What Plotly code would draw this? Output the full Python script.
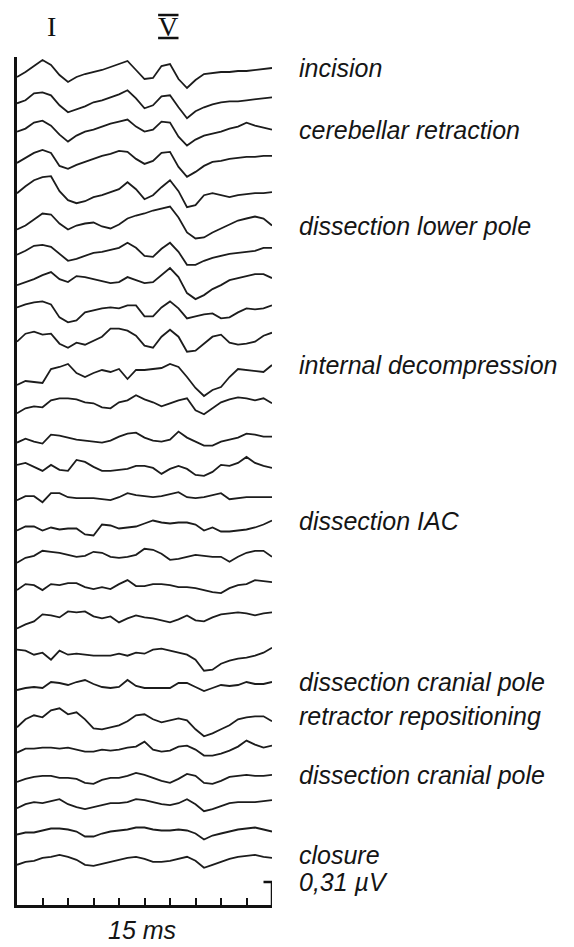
import plotly.graph_objects as go

# ---------------- data ----------------
TIME_MS = [0.0, 0.5, 1.0, 1.5, 2.0, 2.5, 3.0, 3.5, 4.0, 4.5, 5.0, 5.5, 6.0, 6.5, 7.0, 7.5,
           8.0, 8.5, 9.0, 9.5, 10.0, 10.5, 11.0, 11.5, 12.0, 12.5, 13.0, 13.5, 14.0, 14.5, 15.0]

SWEEP_MS = 15.0
SCALE_BAR_UV = 0.31          # calibration bar
SCALE_BAR_UNITS = 23.0       # height of the calibration bar in amplitude units

# amplitudes in units of (0.31 µV / 23), one list per averaged recording, top to bottom
abr_01 = [0, 5, 11, 17, 12, 2, -5, 0, 3, 5, 7, 10, 13, 16, 7, -2, -1, 11, 13, -2, -11, -3, 3, 4, 5, 5, 6, 6, 7, 8, 9]
abr_02 = [0, 3, 10, 11, 8, -2, -9, -6, -3, 1, 3, 6, 9, 13, 5, -5, -2, 7, 8, -4, -15, -8, -4, -1, 1, 2, 2, 3, 4, 5, 6]
abr_03 = [0, 3, 9, 11, 6, -3, -10, -4, 0, 2, 5, 8, 10, 12, 5, 0, 2, 10, 9, -5, -14, -8, -4, -2, 0, 3, 5, 9, 6, 4, 2]
abr_04 = [0, 5, 10, 13, 10, -3, -6, -2, 1, 4, 7, 9, 12, 11, 4, -1, 2, 10, 11, -4, -14, -9, -3, 1, 2, 4, 5, 6, 6, 7, 7]
abr_05 = [0, 7, 13, 16, 17, 2, -7, -10, -8, -4, -2, 1, 4, 11, 4, -6, -2, 6, 13, 2, -14, -12, -2, 0, -2, -4, -2, -1, 0, 0, 1]
abr_06 = [0, 4, 10, 16, 15, 6, 0, 4, 6, 7, 3, 1, 5, 11, 14, 16, 19, 21, 23, 12, -3, -9, -8, -3, 1, 5, 9, 11, 13, 11, 4]
abr_07 = [0, 4, 9, 10, 8, 1, -6, -4, -1, 2, 3, 5, 7, 12, 7, -1, -2, 6, 12, 3, -10, -10, -6, -3, -1, 1, 2, 3, 4, 7, 7]
abr_08 = [0, 3, 6, 10, 13, 6, 3, 9, 8, 6, 4, 2, 3, 8, 5, 2, 3, 10, 17, 8, -8, -14, -10, -4, 0, 5, 7, 9, 11, 11, 7]
abr_09 = [0, 3, 5, 6, 3, -10, -15, -13, -5, -3, -1, 0, -1, 2, 2, -9, -9, 0, 6, -1, -11, -9, -7, -6, -11, -10, -5, -1, -2, -1, 2]
abr_10 = [0, 8, 10, 7, 8, -2, -6, -1, -3, 1, 5, 13, 13, 11, 6, -4, -6, 5, 12, 5, -10, -9, -2, 5, 7, -1, -3, -2, 0, 6, 9]
abr_11 = [0, 4, 3, 2, 16, 18, 21, 12, 8, 12, 15, 13, 16, 6, 15, 15, 16, 17, 21, 18, 8, -3, -11, -5, -2, 8, 16, 15, 14, 13, 20]
abr_12 = [0, 5, 7, 6, 13, 15, 15, 14, 11, 10, 6, 5, 11, 13, 18, 14, 11, 7, 10, 13, 15, 3, -1, 5, 11, 14, 16, 15, 13, 15, 10]
abr_13 = [0, 4, 1, -1, 8, 7, 5, 3, 2, 1, 0, 2, 6, 9, 10, 5, 2, 1, 3, 11, 5, 1, -3, -3, 1, 3, 5, 9, 8, 6, 6]
abr_14 = [0, 2, -2, -6, 0, -5, -6, 5, 3, -2, -6, -6, -5, -4, -1, -1, -3, -9, -4, -1, -4, -10, -11, -7, 0, -1, 2, 8, 2, -1, -3]
abr_15 = [0, 4, 4, -2, 7, 7, 3, 2, 2, 2, 1, 0, 3, 7, 5, 4, 3, 4, 6, 8, 3, 2, 3, 5, 7, 1, 2, 3, 3, 3, 3]
abr_16 = [0, 4, 4, 0, 3, 1, 2, 2, -4, -5, 6, 5, 2, 3, 4, 7, 10, 8, 7, 8, 8, 6, 0, 3, -1, -1, 0, 1, 3, 6, 10]
abr_17 = [0, 5, 7, 12, 11, 10, 8, 6, 7, 11, 10, 6, 5, 6, 8, 14, 13, 9, 3, 4, 6, 8, 7, 6, 6, 1, 6, 10, 12, 12, 6]
abr_18 = [0, 6, 5, 0, 6, 5, 7, 7, 3, 1, 3, 1, 6, 10, 4, 4, 6, 6, 5, 3, 3, 2, 0, -2, -3, 2, 5, 6, 10, 9, 8]
abr_19 = [0, 4, 7, 14, 13, 11, 17, 16, 17, 12, 10, 12, 6, 10, 13, 11, 10, 8, 6, 9, 13, 8, 7, 11, 14, 15, 16, 15, 13, 15, 16]
abr_20 = [0, -1, -5, -3, -10, -1, -5, -4, -5, -6, -6, -6, -4, -6, -3, -4, 0, 1, -1, -3, -5, -10, -21, -20, -14, -11, -9, -8, -6, -3, 2]
abr_21 = [0, 2, 3, 2, 8, 7, 5, 8, 10, 6, 3, 2, 3, 10, 4, 2, 2, 2, 2, 7, 7, 3, -1, 2, 5, 4, 5, 8, 6, 6, 8]
abr_22 = [0, 8, 12, 10, 17, 19, 13, 15, 8, -1, -2, 0, 2, 6, 12, 13, 8, 5, 7, 9, 7, -2, -9, -6, -2, 2, 8, 10, 11, 11, 6]
abr_23 = [0, 4, 4, 5, 5, 4, 5, 3, 1, 1, 3, 2, 3, 5, 6, 11, 3, 1, 2, 6, 7, 3, -3, -3, -1, 2, 6, 12, 8, 5, 7]
abr_24 = [0, 3, 5, 6, 6, 4, 4, 3, -1, -2, 2, 4, 4, 6, 9, 7, 4, 1, -1, 3, 8, 6, -1, -2, 1, 5, 6, 7, 6, 6, 7]
abr_25 = [0, 4, 6, 5, 7, 9, 4, 1, -1, 1, 3, 5, 5, 6, 9, 8, 6, 4, 3, 5, 9, 4, -3, -1, 2, 5, 6, 6, 6, 7, 8]
abr_26 = [0, 2, 2, 4, 6, 6, 5, 3, -2, -2, 1, 3, 4, 5, 7, 7, 5, 4, 4, 5, 4, 1, -5, -1, 1, 3, 5, 6, 7, 5, 3]
abr_27 = [0, 3, 4, 7, 8, 10, 8, 5, 0, -1, 1, 3, 5, 7, 8, 6, 3, 3, 4, 6, 8, 4, -3, 0, 3, 6, 8, 9, 10, 8, 7]

# DC shift of each recording's start relative to its nominal row (same units)
baseline_shift = [0, 4, 6, 5, 5, -1, 4, 4, 12, 8, -5, -3, -2, 6, 1, 1, -1, 2, -6, 3, -7, -14, -9, -8, -4, 0, 0]

# surgical events, keyed by recording index
events = {0: "incision", 2: "cerebellar retraction", 5: "dissection lower pole",
          10: "internal decompression", 15: "dissection IAC", 20: "dissection cranial pole",
          21: "retractor repositioning", 23: "dissection cranial pole", 26: "closure"}

# wave labels (latency in ms)
wave_labels = [("I", 2.05), ("V", 8.9)]

recordings = [abr_01, abr_02, abr_03, abr_04, abr_05, abr_06, abr_07, abr_08, abr_09,
              abr_10, abr_11, abr_12, abr_13, abr_14, abr_15, abr_16, abr_17, abr_18,
              abr_19, abr_20, abr_21, abr_22, abr_23, abr_24, abr_25, abr_26, abr_27]

# ---------------- layout constants ----------------
UV_PER_UNIT = SCALE_BAR_UV / SCALE_BAR_UNITS
ROW_SPACING = 30.3          # units between stacked recordings
TOP_ROW = 828.0             # units above the time axis for the first recording
Y_TOP = 848.0               # units of the full plotting height
LINE_COLOR = "#1c1c1c"
INK = "#111111"
LABEL_X = 1.098
LABEL_FONT = dict(family="Liberation Sans, Arial, sans-serif", size=25, color="#151515", style="italic")
LABEL_NUDGE = {21: 5, 26: 3}   # small vertical nudges (px) to keep labels apart

fig = go.Figure()
annotations = []
for i, rec in enumerate(recordings):
    assert len(rec) == len(TIME_MS)
    base = TOP_ROW - i * ROW_SPACING + baseline_shift[i]
    y = [(base + v) * UV_PER_UNIT for v in rec]
    fig.add_trace(go.Scatter(x=TIME_MS, y=y, mode="lines",
                             line=dict(color=LINE_COLOR, width=1.8),
                             hoverinfo="skip", showlegend=False))
    if i in events:
        annotations.append(dict(text=events[i], xref="paper", yref="y", x=LABEL_X, y=y[-1],
                                xanchor="left", yanchor="middle", showarrow=False,
                                yshift=LABEL_NUDGE.get(i, 0), font=LABEL_FONT))

annotations.append(dict(text="0,31 µV", xref="paper", yref="y", x=LABEL_X, y=SCALE_BAR_UV,
                        xanchor="left", yanchor="middle", showarrow=False, font=LABEL_FONT))
annotations.append(dict(text=f"{SWEEP_MS:g} ms", xref="paper", yref="paper", x=0.49, y=-0.03,
                        xanchor="center", yanchor="middle", showarrow=False, font=LABEL_FONT))
shapes = []
for name, lat in wave_labels:
    annotations.append(dict(text=name, xref="x", yref="paper", x=lat, y=1.0354,
                            xanchor="center", yanchor="middle", showarrow=False,
                            font=dict(family="Liberation Serif, Times New Roman, serif", size=28, color=INK)))
    if name == "V":
        for yb in (1.0495, 1.0224):
            shapes.append(dict(type="line", xref="x", yref="paper", x0=lat - 0.6, x1=lat + 0.6,
                               y0=yb, y1=yb, line=dict(color=INK, width=2.5)))

shapes.append(dict(type="path", xref="x", yref="y",
                   path=f"M {SWEEP_MS - 0.5},{SCALE_BAR_UV} L {SWEEP_MS},{SCALE_BAR_UV} L {SWEEP_MS},0",
                   line=dict(color=INK, width=2.5)))

# the page body adds an 8px offset, so the figure is sized to fit the 574x947 window
fig.update_layout(
    width=566, height=939,
    margin=dict(l=9, r=302, t=49, b=42),
    paper_bgcolor="white", plot_bgcolor="white",
    annotations=annotations, shapes=shapes,
    xaxis=dict(range=[0, SWEEP_MS], showline=True, linewidth=3, linecolor=INK,
               ticks="inside", ticklen=7, tickwidth=2, tickcolor=INK, tick0=0, dtick=1.5,
               showticklabels=False, showgrid=False, zeroline=False),
    yaxis=dict(range=[0, Y_TOP * UV_PER_UNIT], showline=True, linewidth=3, linecolor=INK,
               ticks="", showticklabels=False, showgrid=False, zeroline=False),
)

fig.write_html("out.html")
